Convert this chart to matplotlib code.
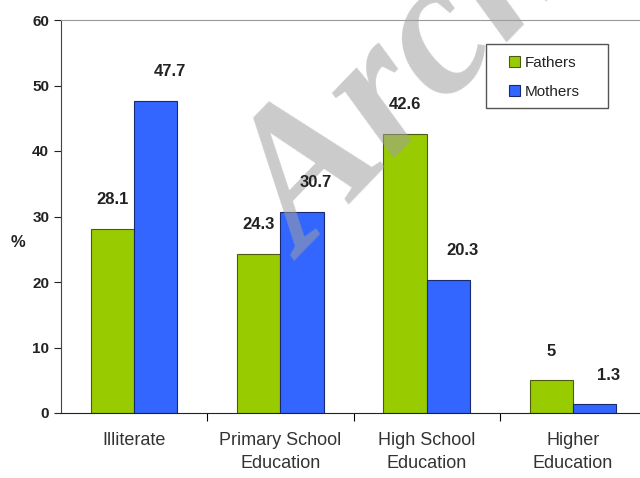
import matplotlib
matplotlib.use('Agg')
import matplotlib.pyplot as plt
from matplotlib.patches import Rectangle
import numpy as np

plt.rcParams['font.family'] = ['Liberation Sans', 'DejaVu Sans']

categories = ['Illiterate', 'Primary School\nEducation', 'High School\nEducation', 'Higher\nEducation']
fathers = [28.1, 24.3, 42.6, 5]
mothers = [47.7, 30.7, 20.3, 1.3]
father_labels = ['28.1', '24.3', '42.6', '5']
mother_labels = ['47.7', '30.7', '20.3', '1.3']

green = '#99cc00'
blue = '#3366ff'

fig = plt.figure(figsize=(6.4, 4.78), dpi=100)
ax = fig.add_axes([61 / 640, 65 / 478, 585 / 640, 393 / 478])

x = np.arange(len(categories))
w = 0.295
ax.bar(x - w / 2, fathers, w, color=green, edgecolor='#4d5a10', linewidth=0.8, label='Fathers')
ax.bar(x + w / 2, mothers, w, color=blue, edgecolor='#1a2a70', linewidth=0.8, label='Mothers')

for i in range(len(categories)):
    ax.annotate(father_labels[i], (x[i] - w / 2, fathers[i]), xytext=(0, 21),
                textcoords='offset points', ha='center', va='center',
                fontsize=12, fontweight='bold', color='#222222', zorder=5)
    ax.annotate(mother_labels[i], (x[i] + w / 2, mothers[i]), xytext=(10, 21),
                textcoords='offset points', ha='center', va='center',
                fontsize=12, fontweight='bold', color='#222222', zorder=5)

ax.set_xlim(-0.5, 3.5)
ax.set_ylim(0, 60)
ax.set_yticks(range(0, 61, 10))
ax.tick_params(axis='y', labelsize=11, length=5, width=0.8, colors='#222222')
for t in ax.get_yticklabels():
    t.set_fontweight('bold')

ax.set_xticks(np.arange(0.5, 3.5, 1))
ax.set_xticklabels([])
ax.set_xticks(x, minor=True)
ax.set_xticklabels(categories, minor=True, fontsize=13, color='#333333', linespacing=1.45)
ax.tick_params(axis='x', which='major', length=6, width=0.8)
ax.tick_params(axis='x', which='minor', length=0, pad=14)

ax.spines['top'].set_color('#999999')
ax.spines['left'].set_color('#444444')
ax.spines['bottom'].set_color('#222222')
ax.spines['right'].set_visible(False)

fig.text(18 / 640, 1 - 242 / 478, '%', fontsize=12, fontweight='bold',
         ha='center', va='center', color='#222222')

# legend box drawn by hand, legend itself frameless
ax.add_patch(Rectangle((486 / 640, 1 - 108 / 478), 122 / 640, 64 / 478,
                       transform=fig.transFigure, facecolor='white', clip_on=False,
                       edgecolor='#555555', linewidth=1.0, zorder=6))
leg = ax.legend(loc='center left', bbox_to_anchor=(509 / 640, 1 - 77.5 / 478),
                bbox_transform=fig.transFigure, fontsize=11, frameon=False,
                handlelength=0.75, handleheight=0.75, labelspacing=1.0,
                borderpad=0, handletextpad=0.3, borderaxespad=0)
leg.set_zorder(7)
for t in leg.get_texts():
    t.set_color('#222222')

# watermark, above bars but under the value labels
ax.text(305 / 640, 1 - 262 / 478, 'Archive', transform=fig.transFigure,
        fontsize=140, fontweight='bold', fontstyle='italic', family='Liberation Serif',
        color='#a0a0a0', alpha=0.55, rotation=46, rotation_mode='anchor',
        ha='left', va='baseline', zorder=4, clip_on=False)

fig.savefig('out.png', dpi=100)
